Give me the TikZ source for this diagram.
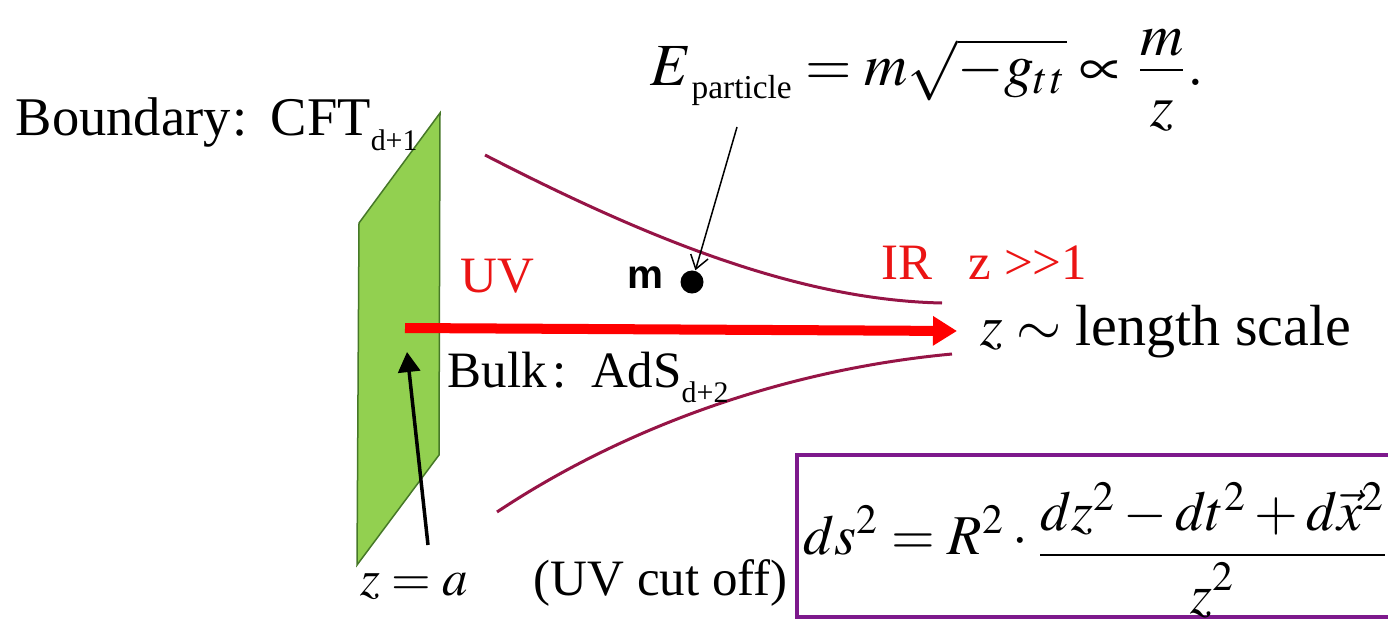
\documentclass[tikz,border=0pt]{standalone}
\usepackage{mathptmx}
\usepackage{fontspec}
\setmainfont{Liberation Serif}
\newfontfamily\labelsans{Liberation Sans}
\usetikzlibrary{positioning,arrows.meta}
\definecolor{sheetgreen}{RGB}{146,208,80}
\definecolor{sheetedge}{RGB}{70,120,40}
\definecolor{horizon}{RGB}{150,20,70}
\definecolor{boxpurple}{RGB}{125,25,140}
\definecolor{uvred}{RGB}{235,20,20}
\newcommand{\lowsub}[1]{\raisebox{-1.5mm}{\fontsize{8.5}{10}\selectfont #1}}
\tikzset{
  sheet/.style={fill=sheetgreen, draw=sheetedge, line width=0.15mm},
  horizonline/.style={draw=horizon, line width=0.3mm},
  flowarrow/.style={-{Triangle[length=2.4mm, width=2.8mm]}, red, line width=1mm},
  cutarrow/.style={-{Triangle[length=2mm, width=2.2mm]}, line width=0.35mm},
  pointer/.style={-{Straight Barb[length=1.3mm, width=1.8mm]}, line width=0.15mm},
  txtlabel/.style={anchor=base west, inner sep=0pt},
  redlabel/.style={txtlabel, text=uvred},
  eqn/.style={anchor=base west, inner sep=0pt},
  metricbox/.style={draw=boxpurple, line width=0.35mm}
}

\begin{document}
\begin{tikzpicture}[x=0.01cm, y=-0.01cm, font=\fontsize{14.5}{17}\selectfont]
  \useasboundingbox (0,0) rectangle (1388,618);
  \clip (0,0) rectangle (1388,618);
  % boundary sheet and horizons
  \draw[sheet] (359,223) -- (440,113) -- (439,455) -- (357,565) -- cycle;
  \draw[horizonline] (485,155) .. controls (650,240) and (800,300) .. (942,303);
  \draw[horizonline] (497,512) .. controls (620,430) and (780,370) .. (952,354);

  \node[txtlabel, font=\fontsize{15.5}{18}\selectfont] (bnd) at (15,135) {Boundary\kern0.2mm:\hspace{2.3mm}CFT\lowsub{d+1}};
  \node[redlabel] (uv) at (460,292) {UV};
  \node[redlabel] (ir) at (881,279) {IR\hspace{3.6mm}z >{}>1};
  \node[txtlabel, font=\labelsans\bfseries\fontsize{11.5}{14}\selectfont] (mlab) at (627,288) {m};
  \node[circle, fill=black, inner sep=0pt, minimum size=2.3mm] (mdot) at (692,282) {};
  \node[txtlabel] (bulk) at (447,387) {Bulk\kern0.6mm:\hspace{2.4mm}AdS\lowsub{d+2}};
  \node[txtlabel, font=\fontsize{16.5}{19}\selectfont] (zlen) at (980,345) {$z\sim$ length scale};
  \node[txtlabel] (za) at (360,595) {$z=a$};
  \node[txtlabel] (cutoff) [base right=6.4mm of za] {(UV cut off)};

  \node[eqn, font=\fontsize{17}{20}\selectfont] (energy) at (650,85)
    {$E$\raisebox{-1.3mm}{\fontsize{9.5}{11}\selectfont particle}%
     $\;=m\sqrt{-g_{t\mkern1mu t}}\propto
     \displaystyle\frac{\raisebox{-1.1mm}{$\displaystyle m$}}{z}.$};
  \draw[metricbox] (797,455) rectangle (1400,617);
  \node[eqn, font=\fontsize{16}{19}\selectfont] (metric) at (803,554)
    {$ds^2=R^2\cdot
     \raisebox{-1.5mm}{$\displaystyle\frac{dz^2-dt^2+d\vec{x}^2}{\raisebox{1.2mm}[0pt][0pt]{$\displaystyle z^2$}}$}$};

  \coordinate (uvstart) at (405,328);
  \coordinate (irend) at (957,331);
  \coordinate (cuttail) at (428,545);
  \coordinate (cuttip) at (407,352);
  \coordinate (etail) at (737,127);
  \draw[flowarrow] (uvstart) -- (irend);
  \draw[cutarrow] (cuttail) -- (cuttip);
  \draw[pointer] (etail) -- (mdot);
\end{tikzpicture}
\end{document}
